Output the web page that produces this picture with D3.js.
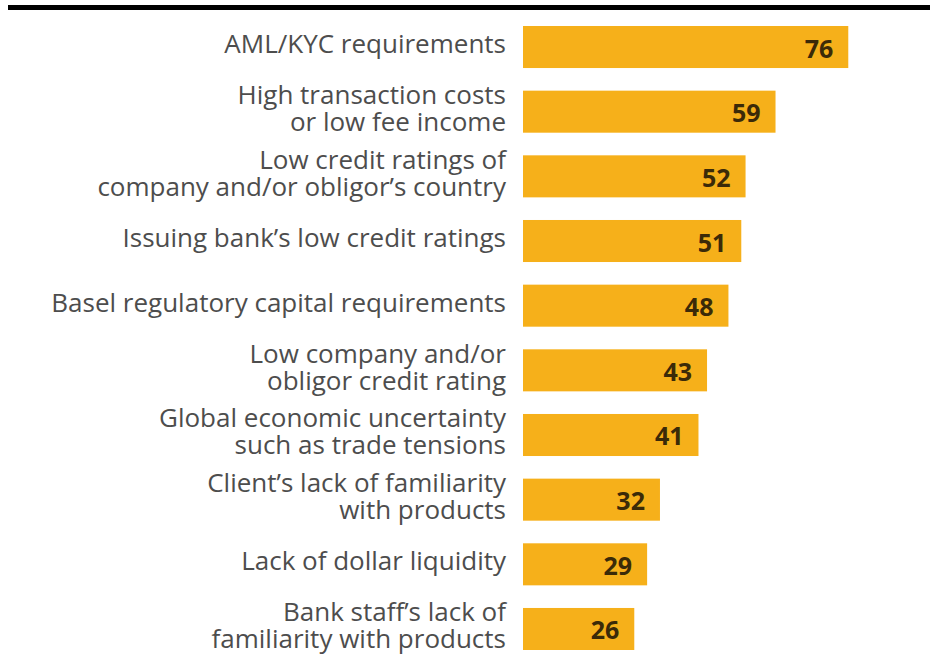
<!DOCTYPE html>
<html>
<head>
<meta charset="utf-8">
<script src="https://cdn.jsdelivr.net/npm/d3@7"></script>
<style>
  html, body { margin: 0; padding: 0; background: #ffffff; }
  svg { display: block; }
</style>
</head>
<body>
<svg id="chart" width="933" height="663"></svg>
<script>
// Reasons cited, one entry per bar (lines of each label kept separate)
const categories = [
  ["AML/KYC requirements"],
  ["High transaction costs", "or low fee income"],
  ["Low credit ratings of", "company and/or obligor\u2019s country"],
  ["Issuing bank\u2019s low credit ratings"],
  ["Basel regulatory capital requirements"],
  ["Low company and/or", "obligor credit rating"],
  ["Global economic uncertainty", "such as trade tensions"],
  ["Client\u2019s lack of familiarity", "with products"],
  ["Lack of dollar liquidity"],
  ["Bank staff\u2019s lack of", "familiarity with products"]
];
const values = [76, 59, 52, 51, 48, 43, 41, 32, 29, 26];

const keys = categories.map(d => d.join(" "));
const rows = keys.map((k, i) => ({ key: k, lines: categories[i], value: values[i] }));

const svg = d3.select("#chart");

// Heavy rule across the top
svg.append("rect")
  .attr("x", 8).attr("y", 5)
  .attr("width", 922).attr("height", 5)
  .attr("fill", "#000");

const y = d3.scaleBand()
  .domain(keys)
  .range([26, 650])
  .paddingInner(0.35)
  .paddingOuter(0);

const x = d3.scaleLinear()
  .domain([0, 100])
  .range([523, 951]);

const barColor = "#F6B01A";
const labelFont = "'Open Sans', 'Noto Sans', sans-serif";

const g = svg.append("g");

g.selectAll("rect.bar")
  .data(rows)
  .join("rect")
  .attr("class", "bar")
  .attr("x", x(0))
  .attr("y", d => y(d.key))
  .attr("width", d => x(d.value) - x(0))
  .attr("height", y.bandwidth())
  .attr("fill", barColor);

// Values printed near the end of each bar
g.selectAll("text.value")
  .data(rows)
  .join("text")
  .attr("class", "value")
  .attr("x", d => x(d.value) - 15)
  .attr("y", d => y(d.key) + y.bandwidth() / 2)
  .attr("dy", "0.42em")
  .attr("text-anchor", "end")
  .attr("font-family", labelFont)
  .attr("font-weight", 700)
  .attr("font-size", 25)
  .attr("fill", "#3b2a08")
  .text(d => d.value);

// Category labels, right-aligned against the bars
const lineGap = 27;
const labels = g.selectAll("text.cat")
  .data(rows)
  .join("text")
  .attr("class", "cat")
  .attr("text-anchor", "end")
  .attr("font-family", labelFont)
  .attr("font-size", 26)
  .attr("fill", "#4d4d4d")
  .attr("transform", d => {
    const cy = y(d.key) + y.bandwidth() / 2;
    return `translate(506,${cy + 6})`;
  });

labels.selectAll("tspan")
  .data(d => d.lines.map((t, i) => ({ t, i, n: d.lines.length })))
  .join("tspan")
  .attr("x", 0)
  .attr("y", d => (d.i - (d.n - 1) / 2) * lineGap)
  .text(d => d.t);
</script>
</body>
</html>
